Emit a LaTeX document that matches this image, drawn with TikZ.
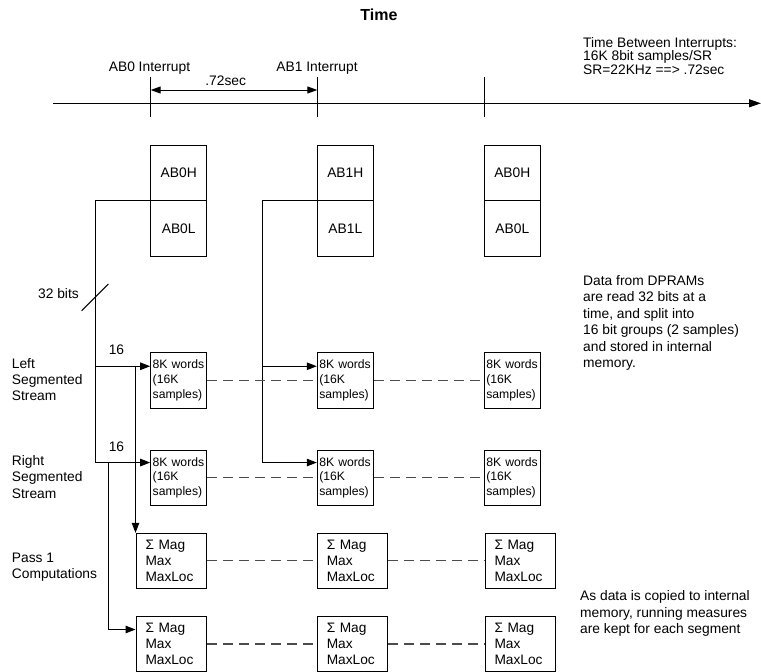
\documentclass[tikz,border=0pt]{standalone}
\usepackage{fontspec}
\setmainfont{Liberation Sans}
\usetikzlibrary{arrows.meta}

\begin{document}
\begin{tikzpicture}[x=1pt,y=-1pt,
  every node/.style={font=\fontsize{13.8}{16.3}\selectfont, inner sep=0pt},
  abbox/.style={draw, line width=1pt, minimum width=56pt, minimum height=55.7pt},
  wordbox/.style={draw, line width=1pt, minimum height=55.5pt, text width=52pt, inner xsep=2pt, align=left, font=\fontsize{12.2}{14.7}\selectfont},
  measbox/.style={draw, line width=1pt, minimum height=55pt, text width=51pt, inner xsep=9.5pt, align=left, font=\fontsize{13.7}{15.7}\selectfont},
  conn/.style={line width=1pt},
  tip/.style={-{Triangle[length=10pt,width=7.5pt]}},
  link/.style={dash pattern=on 10pt off 6pt, line width=1.1pt, black!70}]
\useasboundingbox (0,0) rectangle (761,672);

% time axis
\node[font=\bfseries\fontsize{16}{19}\selectfont, anchor=base] (title) at (379,20.5) {Time};
\coordinate (axstart) at (53,103.3);
\coordinate (axend) at (761,103.3);
\draw[line width=1.2pt, -{Triangle[length=12pt,width=8pt]}] (axstart) -- (axend);
\foreach \x in {150.7,317.3,484.7}
  \draw[line width=1.4pt] (\x,77.3) -- (\x,117.3);
\coordinate (int0) at (150.7,90);
\coordinate (int1) at (317.3,90);
\draw[line width=1pt, {Triangle[length=10pt,width=7pt]}-{Triangle[length=10pt,width=7pt]}] (int0) -- (int1);
\node[anchor=base] (lab0) at (149.5,71.7) {AB0 Interrupt};
\node[anchor=base] (lab1) at (317,71.7) {AB1 Interrupt};
\node[anchor=base] (period) at (225.7,85) {.72sec};
\node[anchor=north west, align=left, font=\fontsize{13.8}{13.2}\selectfont] (rate) at (583,37.5) {Time Between Interrupts:\\16K 8bit samples/SR\\SR=22KHz ==> .72sec};

% DPRAM halves
\node[abbox] (ab0h) at (178.7,172.9) {AB0H};
\node[abbox] (ab0l) at (178.7,228.4) {AB0L};
\node[abbox] (ab1h) at (345.3,172.9) {AB1H};
\node[abbox] (ab1l) at (345.3,228.4) {AB1L};
\node[abbox] (ab2h) at (512.3,172.9) {AB0H};
\node[abbox] (ab2l) at (512.3,228.4) {AB0L};

% segment buffers
\node[wordbox] (w11) at (178.7,380.5) {8K words\\(16K\\samples)};
\node[wordbox] (w12) at (345.3,380.5) {8K words\\(16K\\samples)};
\node[wordbox] (w13) at (512.3,380.5) {8K words\\(16K\\samples)};
\node[wordbox] (w21) at (178.7,477.8) {8K words\\(16K\\samples)};
\node[wordbox] (w22) at (345.3,477.8) {8K words\\(16K\\samples)};
\node[wordbox] (w23) at (512.3,477.8) {8K words\\(16K\\samples)};

% pass 1 measures
\node[measbox] (s11) at (171,560.8) {Σ Mag\\Max\\MaxLoc};
\node[measbox] (s12) at (352.3,560.8) {Σ Mag\\Max\\MaxLoc};
\node[measbox] (s13) at (520,560.8) {Σ Mag\\Max\\MaxLoc};
\node[measbox] (s21) at (171,644) {Σ Mag\\Max\\MaxLoc};
\node[measbox] (s22) at (352.3,644) {Σ Mag\\Max\\MaxLoc};
\node[measbox] (s23) at (520,644) {Σ Mag\\Max\\MaxLoc};

% labels
\node[anchor=north west, align=left] (lefts) at (11.7,358) {Left\\Segmented\\Stream};
\node[anchor=north west, align=left] (rights) at (11.7,455.3) {Right\\Segmented\\Stream};
\node[anchor=north west, align=left] (pass) at (11.7,552.7) {Pass 1\\Computations};
\node[anchor=base east] (width32) at (79,298) {32 bits};
\node[anchor=base] (w16a) at (116.5,354.5) {16};
\node[anchor=base] (w16b) at (116.5,451) {16};
\node[anchor=north west, align=left, font=\fontsize{13.8}{16.5}\selectfont] (dpram) at (583,275) {Data from DPRAMs\\are read 32 bits at a\\time, and split into\\16 bit groups (2 samples)\\and stored in internal\\memory.};
\node[anchor=north west, align=left] (running) at (580,590.7) {As data is copied to internal\\memory, running measures\\are kept for each segment};

% connectors
\coordinate (bus0) at (95,200.7);
\coordinate (tap0) at (108,0);
\coordinate (bus1) at (262.3,200.7);
\coordinate (w11in) at ([yshift=-14pt]w11.north west);
\coordinate (w21in) at ([yshift=-13pt]w21.north west);
\coordinate (w12in) at ([yshift=-14pt]w12.north west);
\coordinate (w22in) at ([yshift=-13pt]w22.north west);
\coordinate (s21in) at ([yshift=-13.5pt]s21.north west);
\draw[conn,tip] (ab0l.north west) -| (bus0 |- w21in) -- (w21in);
\draw[conn,tip] (bus0 |- w11in) -- (w11in);
\draw[conn,tip] (s11.north west |- w11in) -- (s11.north west);
\draw[conn,tip] (tap0 |- w21in) |- (s21in);
\draw[conn,tip] (ab1l.north west) -| (bus1 |- w22in) -- (w22in);
\draw[conn,tip] (bus1 |- w12in) -- (w12in);
\draw[line width=1pt] (81.7,310.7) -- (108.3,284);

% segment links
\draw[link] (w11.east) -- (w12.west);
\draw[link] (w12.east) -- (w13.west);
\draw[link] (w21.east) -- (w22.west);
\draw[link] (w22.east) -- (w23.west);
\draw[link] (s11.east) -- (s12.west);
\draw[link] (s12.east) -- (s13.west);
\draw[link] (s21.east) -- (s22.west);
\draw[link] (s22.east) -- (s23.west);
\end{tikzpicture}
\end{document}
